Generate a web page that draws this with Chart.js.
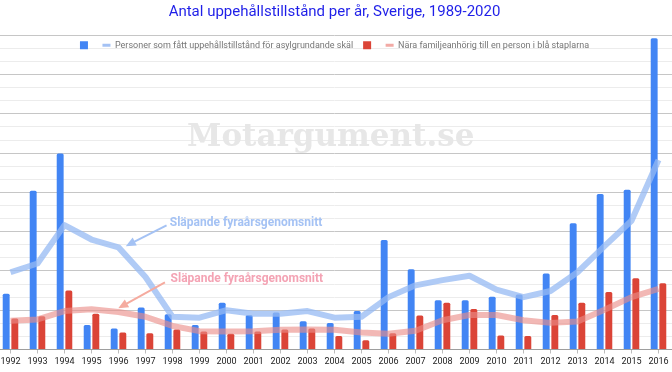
<!DOCTYPE html>
<html>
<head>
<meta charset="utf-8">
<script src="https://cdn.jsdelivr.net/npm/chart.js@4.4.1/dist/chart.umd.min.js"></script>
<style>
  html, body { margin: 0; padding: 0; background: #fff; overflow: hidden; }
  #wrap { position: absolute; left: -3px; top: 0; width: 675px; height: 372px; }
</style>
</head>
<body>
<div id="wrap"><canvas id="chart"></canvas></div>
<script>
// visible part of the chart: 1992-2016
const years = ['1992', '1993', '1994', '1995', '1996', '1997', '1998', '1999', '2000',
  '2001', '2002', '2003', '2004', '2005', '2006', '2007', '2008', '2009', '2010',
  '2011', '2012', '2013', '2014', '2015', '2016'];

// persons granted residence permits on asylum grounds (blue bars)
const asylum = [12800, 36400, 44900, 5600, 4800, 9600, 8100, 5600, 10700,
  7900, 8500, 6500, 6100, 8800, 25100, 18400, 11300, 11300, 12100,
  12600, 17400, 28900, 35600, 36600, 71300];

// close family members of persons in the blue bars (red bars)
const family = [7100, 7600, 13500, 8200, 3900, 3700, 4600, 4100, 3600,
  4100, 4600, 4800, 3100, 2100, 3700, 7800, 10700, 9300, 3200,
  3100, 7900, 10700, 13200, 16300, 15200];

// trailing four year averages
const asylumAvg = [17700, 19700, 28500, 25200, 23400, 16600, 7500, 7300, 9000,
  8200, 8200, 8800, 7300, 7500, 12000, 14700, 15900, 16900, 13700,
  12000, 13400, 17700, 23700, 29500, 43400];
const familyAvg = [6600, 6900, 8800, 9200, 8600, 7500, 5400, 4200, 4100,
  4200, 4500, 4600, 4500, 3900, 3600, 4300, 6700, 7900, 7900,
  6700, 6100, 6400, 9100, 12000, 13900];

const labelAsylum = 'Personer som fått uppehållstillstånd för asylgrundande skäl';
const labelFamily = 'Nära familjeanhörig till en person i blå staplarna';
const noteText = 'Släpande fyraårsgenomsnitt';

const BLUE = '#4285f4';
const RED = '#db4437';
const BLUE_LINE = 'rgba(150,186,243,0.75)';
const RED_LINE = 'rgba(234,140,135,0.62)';

// annotations, given as [category index, value]
const notes = [
  { color: '#a4c2f4', text: [5.9, 28360], from: [5.78, 28450], to: [4.27, 23680] },
  { color: '#f4a3b4', arrow: '#f5ab9f', text: [5.93, 15520], from: [5.72, 15360], to: [3.99, 9460] },
];

function toPx(chart, idx, val) {
  const x = chart.scales.x;
  const x0 = x.getPixelForValue(0);
  const step = x.getPixelForValue(1) - x0;
  return [x0 + idx * step, chart.scales.y.getPixelForValue(val)];
}

function drawArrow(ctx, x1, y1, x2, y2, color) {
  const a = Math.atan2(y2 - y1, x2 - x1);
  const c = Math.cos(a), s = Math.sin(a);
  ctx.strokeStyle = color;
  ctx.fillStyle = color;
  ctx.lineWidth = 2;
  ctx.beginPath();
  ctx.moveTo(x1, y1);
  ctx.lineTo(x2 - 7 * c, y2 - 7 * s);
  ctx.stroke();
  ctx.beginPath();
  ctx.moveTo(x2, y2);
  ctx.lineTo(x2 - 10 * c + 4.5 * s, y2 - 10 * s - 4.5 * c);
  ctx.lineTo(x2 - 10 * c - 4.5 * s, y2 - 10 * s + 4.5 * c);
  ctx.closePath();
  ctx.fill();
}

const decor = {
  id: 'decor',
  beforeInit(chart) {
    // legend sits inside the plot, so it takes no room of its own
    const legend = chart.legend;
    const fit = legend.fit;
    legend.fit = function () {
      fit.call(this);
      this.height = 4.5;
    };
    legend.draw = function () {
      if (this.options.display) this._draw();
    };
  },
  beforeDatasetsDraw(chart) {
    const ctx = chart.ctx;
    const [wx, wy] = toPx(chart, 11.86, 46660);
    ctx.save();
    ctx.font = 'bold 31px "DejaVu Serif"';
    ctx.fillStyle = '#e7e7e7';
    ctx.textAlign = 'center';
    ctx.textBaseline = 'alphabetic';
    ctx.fillText('Motargument.se', wx, wy);
    ctx.restore();
  },
  afterDatasetsDraw(chart) {
    const ctx = chart.ctx;
    ctx.save();
    notes.forEach(n => {
      const [tx, ty] = toPx(chart, ...n.text);
      const [fx, fy] = toPx(chart, ...n.from);
      const [ex, ey] = toPx(chart, ...n.to);
      drawArrow(ctx, fx, fy, ex, ey, n.arrow || n.color);
      ctx.font = 'bold 12px Roboto';
      ctx.fillStyle = n.color;
      ctx.textAlign = 'left';
      ctx.textBaseline = 'alphabetic';
      ctx.fillText(noteText, tx, ty);
    });
    ctx.restore();
  },
};

Chart.defaults.font.family = 'Roboto';

new Chart(document.getElementById('chart'), {
  type: 'bar',
  data: {
    labels: years,
    datasets: [
      {
        label: labelAsylum,
        data: asylum,
        backgroundColor: BLUE,
        borderRadius: { topLeft: 1.5, topRight: 1.5 },
        borderSkipped: 'start',
        categoryPercentage: 0.64,
        barPercentage: 0.8,
        order: 1,
      },
      {
        label: labelFamily,
        data: family,
        backgroundColor: RED,
        borderRadius: { topLeft: 1.5, topRight: 1.5 },
        borderSkipped: 'start',
        categoryPercentage: 0.64,
        barPercentage: 0.8,
        order: 1,
      },
      {
        type: 'line',
        label: labelAsylum + ' (snitt)',
        data: asylumAvg,
        borderColor: BLUE_LINE,
        borderWidth: 6,
        borderJoinStyle: 'round',
        pointRadius: 0,
        tension: 0,
        fill: false,
        order: 0,
      },
      {
        type: 'line',
        label: labelFamily + ' (snitt)',
        data: familyAvg,
        borderColor: RED_LINE,
        borderWidth: 6,
        borderJoinStyle: 'round',
        pointRadius: 0,
        tension: 0,
        fill: false,
        order: 0,
      },
    ],
  },
  options: {
    responsive: true,
    maintainAspectRatio: false,
    animation: false,
    layout: { padding: { left: 0, right: 0, top: 0, bottom: 1.3 } },
    plugins: {
      title: {
        display: true,
        text: 'Antal uppehållstillstånd per år, Sverige, 1989-2020',
        color: '#1f1fe8',
        font: { size: 15, weight: 'normal' },
        padding: { top: 3, bottom: 9.75 },
      },
      legend: {
        position: 'top',
        labels: {
          usePointStyle: true,
          pointStyleWidth: 8,
          boxWidth: 8,
          boxHeight: 8,
          padding: 10,
          color: '#757575',
          font: { size: 9 },
          generateLabels: () => [
            { text: '', fillStyle: BLUE, strokeStyle: BLUE, lineWidth: 0, pointStyle: 'rect', datasetIndex: 0, hidden: false, fontColor: '#757575' },
            { text: labelAsylum, fillStyle: '#a4c2f4', strokeStyle: '#a4c2f4', lineWidth: 3, pointStyle: 'line', datasetIndex: 2, hidden: false, fontColor: '#757575' },
            { text: '', fillStyle: RED, strokeStyle: RED, lineWidth: 0, pointStyle: 'rect', datasetIndex: 1, hidden: false, fontColor: '#757575' },
            { text: labelFamily, fillStyle: '#f2aaa5', strokeStyle: '#f2aaa5', lineWidth: 3, pointStyle: 'line', datasetIndex: 3, hidden: false, fontColor: '#757575' },
          ],
        },
      },
      tooltip: { enabled: false },
    },
    scales: {
      x: {
        offset: true,
        grid: { offset: false, drawOnChartArea: false, drawTicks: true, tickLength: 4, color: '#bdbdbd' },
        border: { color: '#9e9e9e' },
        ticks: { color: '#222', font: { size: 9 }, padding: 3.2, maxRotation: 0, autoSkip: false },
      },
      y: {
        min: 0,
        max: 72000,
        ticks: { stepSize: 3000, display: false },
        grid: {
          color: c => (c.tick && c.tick.value % 9000 === 0 ? '#c6c6c6' : '#ececec'),
          drawTicks: false,
        },
        border: { display: false },
      },
    },
  },
  plugins: [decor],
});
</script>
</body>
</html>
